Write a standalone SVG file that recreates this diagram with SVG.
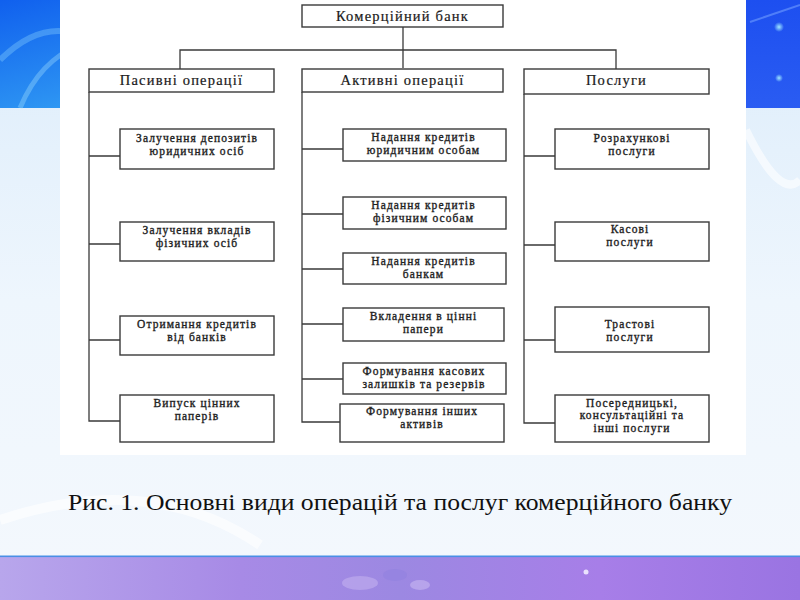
<svg xmlns="http://www.w3.org/2000/svg" width="800" height="600" viewBox="0 0 800 600">
<defs>
<linearGradient id="gTopL" x1="0" y1="0" x2="1" y2="1">
<stop offset="0" stop-color="#1060ee"/>
<stop offset="0.5" stop-color="#2a8ff2"/>
<stop offset="1" stop-color="#45c8f6"/>
</linearGradient>
<linearGradient id="gTopR" x1="0" y1="0" x2="0" y2="1">
<stop offset="0" stop-color="#1d4ff0"/>
<stop offset="1" stop-color="#2a5cf2"/>
</linearGradient>
<linearGradient id="gMid" x1="0" y1="0" x2="0" y2="1">
<stop offset="0" stop-color="#dcecfb"/>
<stop offset="0.5" stop-color="#eef6fd"/>
<stop offset="1" stop-color="#f4f8fd"/>
</linearGradient>
<linearGradient id="gBot" x1="0" y1="0" x2="1" y2="0">
<stop offset="0" stop-color="#b8a6ec"/>
<stop offset="0.3" stop-color="#a78ae6"/>
<stop offset="0.5" stop-color="#9c88e2"/>
<stop offset="0.75" stop-color="#a77ee8"/>
<stop offset="1" stop-color="#9a74e2"/>
</linearGradient>
<radialGradient id="gDot">
<stop offset="0" stop-color="#9fe8ff" stop-opacity="1"/>
<stop offset="1" stop-color="#9fe8ff" stop-opacity="0"/>
</radialGradient>
<style>
.box{fill:#ffffff;stroke:#3a3a3a;stroke-width:1.4}
.ln{fill:none;stroke:#3a3a3a;stroke-width:1.3}
.hd{font-family:"Liberation Serif","Times New Roman",serif;font-size:14.5px;fill:#1a1a1a;stroke:#1a1a1a;stroke-width:0.2;text-anchor:middle;letter-spacing:1.2px}
.tx{font-family:"Liberation Serif","Times New Roman",serif;font-size:11.5px;fill:#1e1e1e;stroke:#1e1e1e;stroke-width:0.35;text-anchor:middle;letter-spacing:1.1px}
.cap{font-family:"Liberation Serif","Times New Roman",serif;font-size:23px;fill:#111111}
</style>
</defs>

<g id="background">
<rect x="0" y="0" width="800" height="600" fill="url(#gMid)"/>
<rect x="0" y="0" width="400" height="108" fill="url(#gTopL)"/>
<rect x="400" y="0" width="400" height="108" fill="url(#gTopR)"/>
<path d="M0,60 Q40,20 80,35" stroke="#8fd8ff" stroke-opacity="0.35" stroke-width="6" fill="none"/>
<path d="M20,108 Q40,60 80,45" stroke="#a8e6ff" stroke-opacity="0.35" stroke-width="5" fill="none"/>
<path d="M750,22 L800,5" stroke="#6f9cff" stroke-opacity="0.6" stroke-width="2" fill="none"/>
<circle cx="779" cy="27" r="5" fill="url(#gDot)"/>
<circle cx="779" cy="78" r="4" fill="url(#gDot)"/>
<path d="M746,130 Q780,200 800,180" stroke="#ffffff" stroke-opacity="0.6" stroke-width="8" fill="none"/>
<path d="M0,520 Q150,470 260,545" stroke="#ffffff" stroke-opacity="0.6" stroke-width="10" fill="none"/>
<rect x="0" y="556" width="800" height="44" fill="url(#gBot)"/>
<rect x="0" y="555.5" width="800" height="1.6" fill="#4a8fe6"/>
<ellipse cx="360" cy="583" rx="18" ry="7" fill="#c9b8f2" opacity="0.5"/>
<ellipse cx="395" cy="575" rx="12" ry="6" fill="#8f7fe0" opacity="0.5"/>
<ellipse cx="420" cy="585" rx="10" ry="5" fill="#d7c8f7" opacity="0.45"/>
<circle cx="586" cy="572" r="2.5" fill="#f2ecff" opacity="0.9"/>
<rect x="60" y="0" width="686" height="455" fill="#ffffff"/>
</g>

<g id="connectors">
<path class="ln" d="M403,27 V68"/>
<path class="ln" d="M180,69 V50 H616 V69"/>
<path class="ln" d="M89,92 V421 H120"/>
<path class="ln" d="M89,156 H120 M89,244 H120 M89,340 H120"/>
<path class="ln" d="M302,92 V422 H340"/>
<path class="ln" d="M302,149 H343 M302,214 H343 M302,269 H343 M302,324 H343 M302,379 H343"/>
<path class="ln" d="M524,94 V423 H555"/>
<path class="ln" d="M524,156 H555 M524,245 H555 M524,340 H555"/>
</g>

<g id="n-bank"><rect class="box" x="302" y="5" width="201" height="22"/><text class="hd" x="402.5" y="20.5">Комерційний банк</text></g>

<g id="n-passive"><rect class="box" x="89" y="69" width="185" height="23"/><text class="hd" x="181.5" y="84.5">Пасивні операції</text></g>
<g id="n-active"><rect class="box" x="302" y="69" width="201" height="23"/><text class="hd" x="402.5" y="84.5">Активні операції</text></g>
<g id="n-services"><rect class="box" x="524" y="69" width="185" height="25"/><text class="hd" x="616.5" y="85">Послуги</text></g>

<g id="n-p1"><rect class="box" x="120" y="129" width="154" height="40"/><text class="tx" x="197" y="141.5">Залучення депозитів<tspan x="197" dy="13">юридичних осіб</tspan></text></g>
<g id="n-p2"><rect class="box" x="120" y="222" width="154" height="39"/><text class="tx" x="197" y="233.5">Залучення вкладів<tspan x="197" dy="13">фізичних  осіб</tspan></text></g>
<g id="n-p3"><rect class="box" x="120" y="316" width="154" height="39"/><text class="tx" x="197" y="328.2">Отримання кредитів<tspan x="197" dy="13.2">від банків</tspan></text></g>
<g id="n-p4"><rect class="box" x="120" y="395" width="154" height="47"/><text class="tx" x="197" y="406.5">Випуск цінних<tspan x="197" dy="13">паперів</tspan></text></g>

<g id="n-a1"><rect class="box" x="343" y="129" width="163" height="32"/><text class="tx" x="423.5" y="141.2">Надання кредитів<tspan x="423.5" dy="13">юридичним особам</tspan></text></g>
<g id="n-a2"><rect class="box" x="343" y="197" width="163" height="32"/><text class="tx" x="423.5" y="209">Надання кредитів<tspan x="423.5" dy="13">фізичним  особам</tspan></text></g>
<g id="n-a3"><rect class="box" x="343" y="253" width="163" height="31"/><text class="tx" x="423.5" y="264.5">Надання кредитів<tspan x="423.5" dy="13">банкам</tspan></text></g>
<g id="n-a4"><rect class="box" x="343" y="308" width="161" height="33"/><text class="tx" x="423.5" y="320">Вкладення в цінні<tspan x="423.5" dy="13">папери</tspan></text></g>
<g id="n-a5"><rect class="box" x="343" y="363" width="163" height="31"/><text class="tx" x="424" y="374.5">Формування касових<tspan x="424" dy="13">залишків та резервів</tspan></text></g>
<g id="n-a6"><rect class="box" x="340" y="404" width="164" height="38"/><text class="tx" x="422" y="415.3">Формування інших<tspan x="422" dy="13">активів</tspan></text></g>

<g id="n-s1"><rect class="box" x="555" y="129" width="154" height="40"/><text class="tx" x="632" y="141.5">Розрахункові<tspan x="632" dy="13">послуги</tspan></text></g>
<g id="n-s2"><rect class="box" x="555" y="222" width="154" height="39"/><text class="tx" x="630" y="233">Касові<tspan x="630" dy="13.2">послуги</tspan></text></g>
<g id="n-s3"><rect class="box" x="555" y="307" width="154" height="45"/><text class="tx" x="630" y="327.5">Трастові<tspan x="630" dy="13.2">послуги</tspan></text></g>
<g id="n-s4"><rect class="box" x="555" y="395" width="154" height="47"/><text class="tx" x="632" y="406.5">Посередницькі,<tspan x="632" dy="12.8">консультаційні та</tspan><tspan x="632" dy="12.8">інші послуги</tspan></text></g>

<text class="cap" x="68" y="510" textLength="664" lengthAdjust="spacingAndGlyphs">Рис. 1. Основні види операцій та послуг комерційного банку</text>
</svg>
